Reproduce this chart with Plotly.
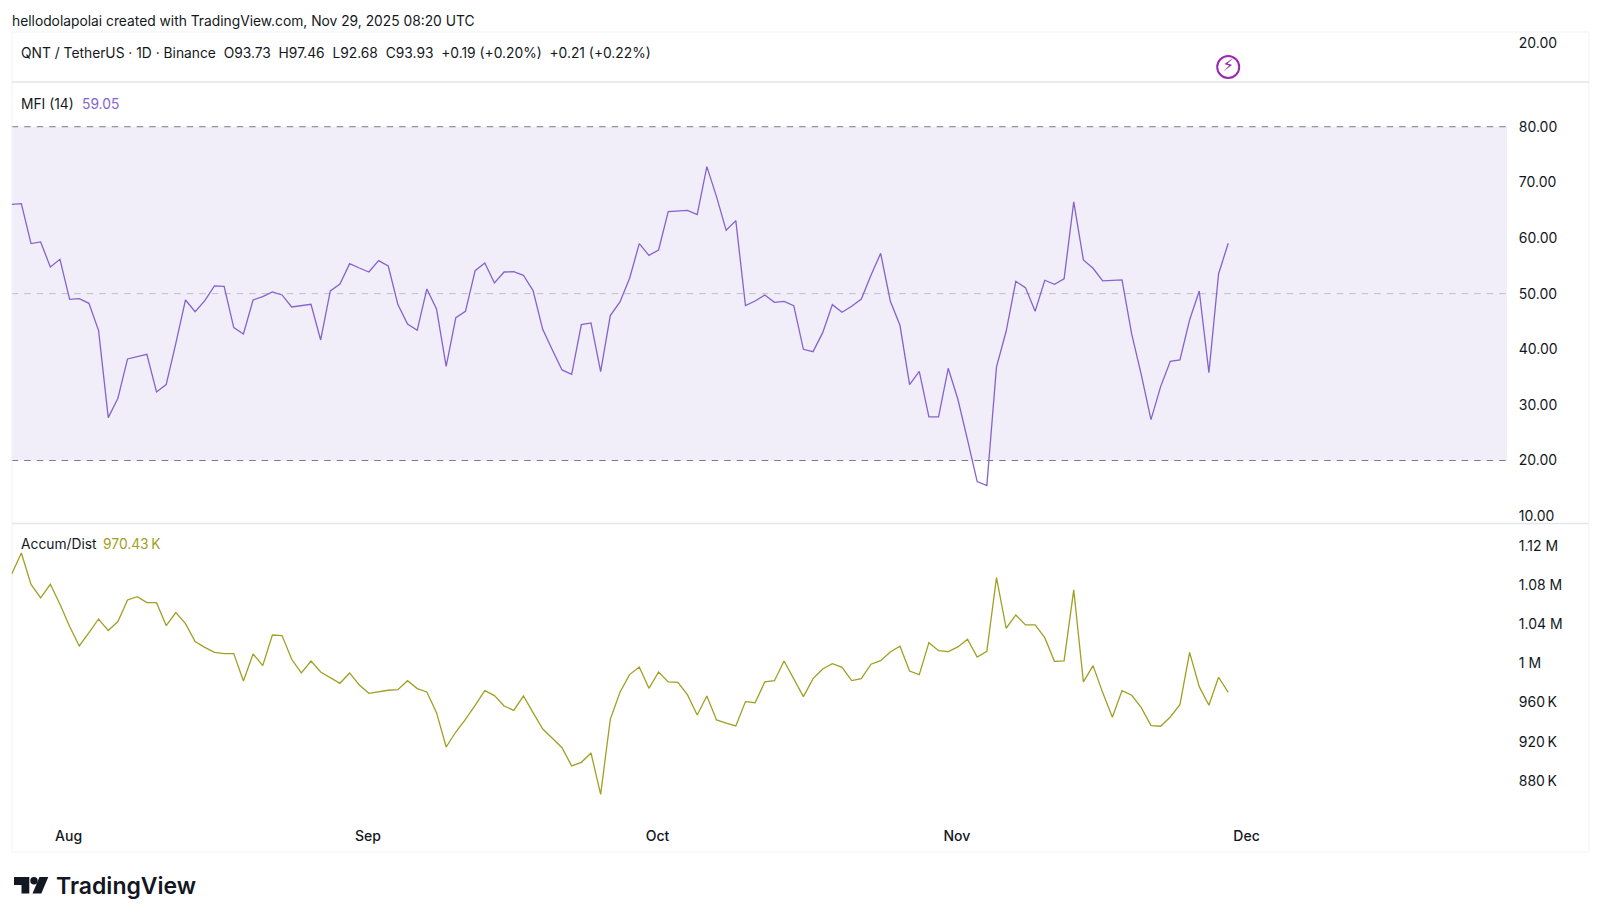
import pandas as pd
import plotly.graph_objects as go
from plotly.subplots import make_subplots

W, H = 1600, 921

# ==========================================
# Values (daily, from Jul 26 2025)
# ==========================================
mfi_values = [
    66.06, 66.18, 58.99, 59.29, 54.79, 56.17, 48.98, 49.10, 48.26, 43.35,
    27.71, 31.19, 38.26, 38.68, 39.10, 32.32, 33.64, 41.07, 48.86, 46.76,
    48.74, 51.38, 51.32, 43.89, 42.75, 48.86, 49.46, 50.30, 49.76, 47.60,
    47.90, 48.08, 41.67, 50.48, 51.74, 55.39, 54.61, 53.89, 55.93, 54.97,
    48.02, 44.55, 43.41, 50.84, 47.24, 36.94, 45.69, 46.82, 54.13, 55.51,
    51.92, 53.89, 53.95, 53.30, 50.54, 43.59, 39.87, 36.28, 35.50, 44.43,
    44.73, 35.98, 46.05, 48.50, 52.76, 58.99, 56.89, 57.85, 64.74, 64.86,
    64.98, 64.20, 72.83, 67.44, 61.38, 63.12, 47.84, 48.68, 49.76, 48.44,
    48.62, 47.84, 39.99, 39.57, 42.99, 48.02, 46.64, 47.72, 49.04, 53.30,
    57.25, 48.68, 44.31, 33.64, 36.04, 27.83, 27.83, 36.58, 31.01, 23.70,
    16.21, 15.49, 36.82, 43.23, 52.22, 51.08, 46.82, 52.40, 51.68, 52.64,
    66.48, 56.05, 54.55, 52.28, 52.40, 52.46, 42.75, 35.38, 27.35, 33.28,
    37.84, 38.08, 45.27, 50.48, 35.80, 53.54, 59.05,
]

# thousands
accum_dist_values = [
    1091.4, 1112.9, 1080.8, 1066.9, 1080.8, 1060.4, 1037.6, 1017.8, 1031.4, 1045.4,
    1033.5, 1042.7, 1064.8, 1068.2, 1062.1, 1062.1, 1038.6, 1051.9, 1040.6, 1022.2,
    1016.4, 1011.3, 1010.0, 1010.0, 982.0, 1009.6, 997.7, 1029.0, 1028.4, 1004.2,
    990.2, 1002.4, 991.2, 985.7, 979.6, 990.2, 977.9, 969.4, 970.8, 972.5,
    973.1, 982.3, 974.2, 970.8, 949.6, 914.5, 929.8, 942.8, 957.1, 972.1,
    967.0, 956.4, 952.0, 966.6, 949.6, 932.9, 923.4, 913.8, 895.1, 898.8,
    908.4, 866.1, 942.8, 970.4, 988.5, 996.3, 974.5, 991.2, 981.0, 980.6,
    967.7, 947.2, 966.6, 942.1, 939.0, 936.0, 960.9, 959.8, 981.0, 982.3,
    1002.4, 984.7, 966.0, 984.4, 994.2, 999.7, 996.0, 982.4, 984.4, 999.1,
    1002.8, 1011.7, 1017.5, 992.2, 988.5, 1021.2, 1013.0, 1012.0, 1016.8, 1024.6,
    1006.5, 1012.3, 1087.7, 1035.9, 1049.5, 1039.3, 1039.3, 1026.3, 1002.1, 1002.5,
    1075.1, 981.0, 997.7, 970.1, 944.9, 972.1, 967.4, 954.7, 936.3, 935.7,
    945.2, 957.8, 1011.3, 976.2, 957.1, 985.8, 970.43,
]

dates = pd.date_range("2025-07-26", periods=len(mfi_values), freq="D")

month_ticks = ["2025-08-01", "2025-09-01", "2025-10-01", "2025-11-01", "2025-12-01"]
month_labels = ["Aug", "Sep", "Oct", "Nov", "Dec"]

mfi_ticks = [10, 20, 30, 40, 50, 60, 70, 80]
mfi_tick_labels = ["10.00", "20.00", "30.00", "40.00", "50.00", "60.00", "70.00", "80.00"]

ad_ticks = [880, 920, 960, 1000, 1040, 1080, 1120]
ad_tick_labels = ["880\u2009K", "920\u2009K", "960\u2009K", "1\u00a0M", "1.04\u00a0M", "1.08\u00a0M", "1.12\u00a0M"]

price_ticks = [20]
price_tick_labels = ["20.00"]

event_dates = ["2025-11-29"]
event_levels = [7.6]

# ==========================================
# Styles
# ==========================================
FONT = "Inter, Roboto, sans-serif"
TEXT = "#131722"
PURPLE = "#8662cd"
OLIVE = "#a0a024"
EVENT = "#9c27b0"
FRAME = "#f0f3fa"
SEP = "#e4e5ee"


def px(x):
    return x / W


def py(y):
    return 1 - y / H


def poly(points):
    return "M " + " L ".join(f"{px(x)} {py(y)}" for x, y in points) + " Z"


def label(fig, x, y, text, color=TEXT, size=13.8, weight=400):
    fig.add_annotation(
        x=px(x), y=py(y), xref="paper", yref="paper", text=text, showarrow=False,
        xanchor="left", yanchor="middle", align="left", borderpad=0, borderwidth=0,
        font=dict(family=FONT, size=size, color=color, weight=weight),
    )


fig = make_subplots(rows=3, cols=1, shared_xaxes=True, vertical_spacing=0)

fig.add_trace(go.Scatter(
    x=event_dates, y=event_levels, mode="markers+text", text=["\u26a1"],
    textposition="middle center",
    textfont=dict(family="DejaVu Sans", size=17, color=EVENT),
    marker=dict(symbol="circle-open", size=22, color=EVENT, line=dict(width=2, color=EVENT)),
    showlegend=False, hoverinfo="skip",
), row=1, col=1)

fig.add_trace(go.Scatter(
    x=dates, y=mfi_values, mode="lines", line=dict(color=PURPLE, width=1.3),
    showlegend=False, name="MFI (14)",
), row=2, col=1)

fig.add_trace(go.Scatter(
    x=dates, y=accum_dist_values, mode="lines", line=dict(color=OLIVE, width=1.3),
    showlegend=False, name="Accum/Dist",
), row=3, col=1)

fig.add_hrect(y0=20, y1=80, row=2, col=1, fillcolor="#f1eef9", line_width=0, layer="below")
for level, color in [(80, "#787b86"), (50, "#c0bec8"), (20, "#787b86")]:
    fig.add_hline(y=level, row=2, col=1, layer="below",
                  line=dict(color=color, width=1, dash="6.5px,6px"))

x_range = ["2025-07-26 00:00", "2025-12-27 21:00"]
x_domain = [px(11.7), px(1507)]
for r in (1, 2, 3):
    fig.update_xaxes(range=x_range, domain=x_domain, showgrid=False, zeroline=False,
                     showline=False, ticks="", row=r, col=1)
fig.update_xaxes(tickmode="array", tickvals=month_ticks, ticktext=month_labels,
                 tickfont=dict(family=FONT, size=14, color=TEXT, weight=500),
                 tickangle=0, ticklabelshift=-1, row=3, col=1)

y_common = dict(
    side="right", showgrid=False, zeroline=False, showline=False, ticks="outside",
    ticklen=8, tickcolor="rgba(0,0,0,0)", tickmode="array",
    tickfont=dict(family=FONT, size=14, color=TEXT),
)
fig.update_yaxes(range=[0, 25.9], domain=[py(81.5), py(32)], tickvals=price_ticks,
                 ticktext=price_tick_labels, row=1, col=1, **y_common)
fig.update_yaxes(range=[8.77, 88.04], domain=[py(523), py(82)], tickvals=mfi_ticks,
                 ticktext=mfi_tick_labels, row=2, col=1, **y_common)
fig.update_yaxes(range=[833.7, 1142.5], domain=[py(826), py(524)], tickvals=ad_ticks,
                 ticktext=ad_tick_labels, row=3, col=1, **y_common)

label(fig, 11.6, 21.2, "hellodolapolai created with TradingView.com, Nov 29, 2025 08:20 UTC")
label(fig, 21, 52.6, "QNT / TetherUS · 1D · Binance\u00a0\u00a0O93.73\u00a0\u00a0H97.46\u00a0\u00a0L92.68\u00a0\u00a0"
                     "C93.93\u00a0\u00a0+0.19 (+0.20%)\u00a0\u00a0+0.21 (+0.22%)")
label(fig, 21, 103.5, "MFI (14)")
label(fig, 82, 103.5, "59.05", color=PURPLE)
label(fig, 21, 544.2, "Accum/Dist")
label(fig, 103, 544.2, "970.43\u2009K", color=OLIVE)
label(fig, 55.5, 886, "TradingView", size=23, weight=600)

frame_shapes = [
    dict(type="rect", xref="paper", yref="paper", x0=px(12), x1=px(1589), y0=py(852), y1=py(32),
         line=dict(color=FRAME, width=1), fillcolor="rgba(0,0,0,0)", layer="below"),
    dict(type="line", xref="paper", yref="paper", x0=px(12), x1=px(1589), y0=py(82), y1=py(82),
         line=dict(color=SEP, width=1.5)),
    dict(type="line", xref="paper", yref="paper", x0=px(12), x1=px(1589), y0=py(523.5), y1=py(523.5),
         line=dict(color=SEP, width=1.5)),
    # logo
    dict(type="path", xref="paper", yref="paper", line_width=0, fillcolor=TEXT,
         path=poly([(14, 877), (29.3, 877), (29.3, 893.5), (21.5, 893.5), (21.5, 885), (14, 885)])),
    dict(type="circle", xref="paper", yref="paper", line_width=0, fillcolor=TEXT,
         x0=px(30.3), x1=px(37.7), y0=py(884.5), y1=py(877)),
    dict(type="path", xref="paper", yref="paper", line_width=0, fillcolor=TEXT,
         path=poly([(39.5, 877), (48.3, 877), (41.3, 893.5), (32.5, 893.5)])),
]
for s in frame_shapes:
    fig.add_shape(**s)

fig.update_layout(
    width=W, height=H, autosize=False, margin=dict(l=0, r=0, t=0, b=0),
    paper_bgcolor="white", plot_bgcolor="white", showlegend=False,
    hovermode=False, font=dict(family=FONT, color=TEXT),
)

fig.write_html("out.html", config={"displayModeBar": False},
               post_script="document.body.style.margin='0';")
